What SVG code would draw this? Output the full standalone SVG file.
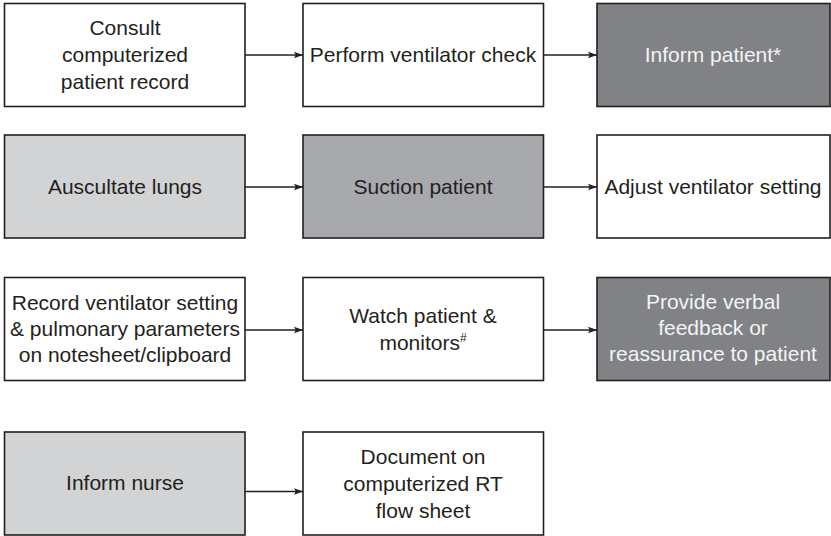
<svg xmlns="http://www.w3.org/2000/svg" width="831" height="536" viewBox="0 0 831 536">
  <style>
    .box { stroke: #231f20; stroke-width: 1.6; }
    .white { fill: #ffffff; }
    .light { fill: #d1d3d4; }
    .mid { fill: #a7a9ac; }
    .dark { fill: #808285; }
    text { font-family: "Liberation Sans", Arial, sans-serif; font-size: 21px; text-anchor: middle; fill: #231f20; }
    text.inv { fill: #f4f4f4; }
    .sup { font-size: 12px; }
    .conn { stroke: #231f20; stroke-width: 1.4; fill: none; marker-end: url(#arrow); }
  </style>
  <defs>
    <marker id="arrow" markerWidth="9" markerHeight="8" refX="9" refY="4" orient="auto" markerUnits="userSpaceOnUse">
      <path d="M0,0.8 L9,4 L0,7.2 L1.8,4 Z" fill="#231f20"/>
    </marker>
  </defs>

  <!-- Row 1 -->
  <g id="consult-record">
    <rect class="box white" x="4.5" y="3.5" width="240.5" height="103"/>
    <text x="125" y="35">Consult</text>
    <text x="125" y="62">computerized</text>
    <text x="125" y="89">patient record</text>
  </g>
  <g id="ventilator-check">
    <rect class="box white" x="303" y="3.5" width="240.5" height="103"/>
    <text x="423" y="62">Perform ventilator check</text>
  </g>
  <g id="inform-patient">
    <rect class="box dark" x="597" y="3.5" width="233" height="103"/>
    <text class="inv" x="713" y="62">Inform patient*</text>
  </g>

  <!-- Row 2 -->
  <g id="auscultate-lungs">
    <rect class="box light" x="4.5" y="135" width="240.5" height="103"/>
    <text x="125" y="194">Auscultate lungs</text>
  </g>
  <g id="suction-patient">
    <rect class="box mid" x="303" y="135" width="240.5" height="103"/>
    <text x="423" y="194">Suction patient</text>
  </g>
  <g id="adjust-setting">
    <rect class="box white" x="597" y="135" width="233" height="103"/>
    <text x="713" y="194">Adjust ventilator setting</text>
  </g>

  <!-- Row 3 -->
  <g id="record-setting">
    <rect class="box white" x="4.5" y="277.5" width="240.5" height="103"/>
    <text x="125" y="310">Record ventilator setting</text>
    <text x="125" y="336">&amp; pulmonary parameters</text>
    <text x="125" y="362">on notesheet/clipboard</text>
  </g>
  <g id="watch-monitors">
    <rect class="box white" x="303" y="277.5" width="240.5" height="103"/>
    <text x="423" y="323">Watch patient &amp;</text>
    <text x="423" y="350">monitors<tspan class="sup" dy="-8">#</tspan></text>
  </g>
  <g id="verbal-feedback">
    <rect class="box dark" x="597" y="277.5" width="233" height="103"/>
    <text class="inv" x="713" y="309">Provide verbal</text>
    <text class="inv" x="713" y="335">feedback or</text>
    <text class="inv" x="713" y="361">reassurance to patient</text>
  </g>

  <!-- Row 4 -->
  <g id="inform-nurse">
    <rect class="box light" x="4.5" y="432" width="240.5" height="103"/>
    <text x="125" y="490">Inform nurse</text>
  </g>
  <g id="document-rt">
    <rect class="box white" x="303" y="432" width="240.5" height="103"/>
    <text x="423" y="464">Document on</text>
    <text x="423" y="491">computerized RT</text>
    <text x="423" y="518">flow sheet</text>
  </g>

  <!-- Connectors -->
  <g id="connectors">
    <line class="conn" x1="245" y1="55" x2="303" y2="55"/>
    <line class="conn" x1="543.5" y1="55" x2="597" y2="55"/>
    <line class="conn" x1="245" y1="187" x2="303" y2="187"/>
    <line class="conn" x1="543.5" y1="187" x2="597" y2="187"/>
    <line class="conn" x1="245" y1="330" x2="303" y2="330"/>
    <line class="conn" x1="543.5" y1="330" x2="597" y2="330"/>
    <line class="conn" x1="245" y1="491.5" x2="303" y2="491.5"/>
  </g>
</svg>
